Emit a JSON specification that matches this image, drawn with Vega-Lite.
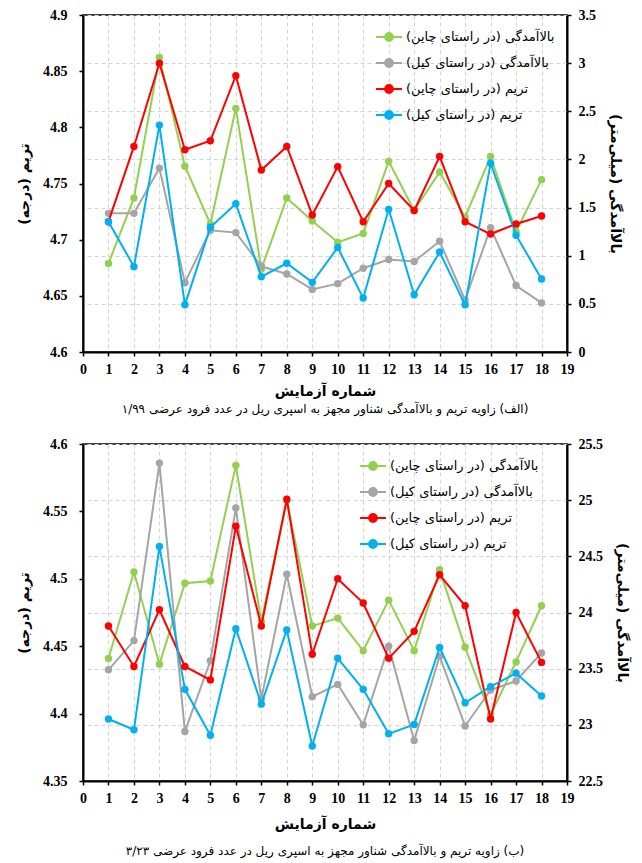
{
  "$schema": "https://vega.github.io/schema/vega-lite/v6.json",
  "background": "white",
  "padding": {"left": 16, "top": 7, "right": 5, "bottom": 4},
  "spacing": 20,
  "datasets": {
    "a": [
      {"run": 1, "hc": 0.92, "hk": 1.44, "tc": 4.716, "tk": 4.716},
      {"run": 2, "hc": 1.60, "hk": 1.44, "tc": 4.783, "tk": 4.676},
      {"run": 3, "hc": 3.06, "hk": 1.91, "tc": 4.857, "tk": 4.802},
      {"run": 4, "hc": 1.93, "hk": 0.72, "tc": 4.780, "tk": 4.642},
      {"run": 5, "hc": 1.33, "hk": 1.265, "tc": 4.788, "tk": 4.711},
      {"run": 6, "hc": 2.53, "hk": 1.24, "tc": 4.846, "tk": 4.732},
      {"run": 7, "hc": 0.86, "hk": 0.89, "tc": 4.762, "tk": 4.667},
      {"run": 8, "hc": 1.60, "hk": 0.81, "tc": 4.783, "tk": 4.679},
      {"run": 9, "hc": 1.36, "hk": 0.65, "tc": 4.722, "tk": 4.662},
      {"run": 10, "hc": 1.14, "hk": 0.71, "tc": 4.765, "tk": 4.693},
      {"run": 11, "hc": 1.23, "hk": 0.87, "tc": 4.716, "tk": 4.648},
      {"run": 12, "hc": 1.98, "hk": 0.96, "tc": 4.750, "tk": 4.727},
      {"run": 13, "hc": 1.47, "hk": 0.94, "tc": 4.726, "tk": 4.651},
      {"run": 14, "hc": 1.87, "hk": 1.15, "tc": 4.774, "tk": 4.689},
      {"run": 15, "hc": 1.40, "hk": 0.54, "tc": 4.716, "tk": 4.642},
      {"run": 16, "hc": 2.03, "hk": 1.29, "tc": 4.705, "tk": 4.768},
      {"run": 17, "hc": 1.25, "hk": 0.69, "tc": 4.714, "tk": 4.704},
      {"run": 18, "hc": 1.79, "hk": 0.51, "tc": 4.721, "tk": 4.665}
    ],
    "b": [
      {"run": 1, "hc": 23.59, "hk": 23.49, "tc": 4.465, "tk": 4.396},
      {"run": 2, "hc": 24.36, "hk": 23.75, "tc": 4.435, "tk": 4.388},
      {"run": 3, "hc": 23.54, "hk": 25.33, "tc": 4.477, "tk": 4.524},
      {"run": 4, "hc": 24.26, "hk": 22.94, "tc": 4.435, "tk": 4.418},
      {"run": 5, "hc": 24.28, "hk": 23.57, "tc": 4.425, "tk": 4.384},
      {"run": 6, "hc": 25.31, "hk": 24.93, "tc": 4.539, "tk": 4.463},
      {"run": 7, "hc": 23.92, "hk": 23.23, "tc": 4.465, "tk": 4.407},
      {"run": 8, "hc": 25.00, "hk": 24.34, "tc": 4.559, "tk": 4.462},
      {"run": 9, "hc": 23.88, "hk": 23.25, "tc": 4.444, "tk": 4.376},
      {"run": 10, "hc": 23.95, "hk": 23.36, "tc": 4.500, "tk": 4.441},
      {"run": 11, "hc": 23.66, "hk": 23.00, "tc": 4.482, "tk": 4.418},
      {"run": 12, "hc": 24.11, "hk": 23.70, "tc": 4.441, "tk": 4.385},
      {"run": 13, "hc": 23.66, "hk": 22.86, "tc": 4.461, "tk": 4.392},
      {"run": 14, "hc": 24.38, "hk": 23.61, "tc": 4.503, "tk": 4.449},
      {"run": 15, "hc": 23.69, "hk": 22.99, "tc": 4.480, "tk": 4.408},
      {"run": 16, "hc": 23.09, "hk": 23.31, "tc": 4.396, "tk": 4.420},
      {"run": 17, "hc": 23.56, "hk": 23.39, "tc": 4.475, "tk": 4.430},
      {"run": 18, "hc": 24.06, "hk": 23.64, "tc": 4.438, "tk": 4.413}
    ]
  },
  "config": {
    "view": {"stroke": "#000", "strokeWidth": 1.5},
    "axis": {
      "labelFont": "Liberation Serif",
      "labelFontWeight": "bold",
      "labelFontSize": 14,
      "labelColor": "#000",
      "labelOverlap": false,
      "labelBound": false,
      "labelFlush": false,
      "domainColor": "#000",
      "domainWidth": 2,
      "tickColor": "#000",
      "tickSize": 4,
      "tickWidth": 1.5,
      "titleFont": "DejaVu Sans",
      "titleFontWeight": "bold",
      "titleFontSize": 14,
      "titleColor": "#000",
      "gridColor": "#d4d4d4",
      "gridDash": [4, 3],
      "gridWidth": 1
    },
    "legend": {
      "orient": "none",
      "legendX": 292,
      "legendY": 8,
      "padding": 0,
      "title": null,
      "symbolType": "M-1,0H1M0.3,0A0.3,0.3 0 1,1 -0.3,0A0.3,0.3 0 1,1 0.3,0Z",
      "symbolSize": 676,
      "symbolStrokeWidth": 2,
      "labelFont": "DejaVu Sans",
      "labelFontSize": 13,
      "labelColor": "#000",
      "labelOffset": 3,
      "rowPadding": 1,
      "labelLimit": 300
    }
  },
  "resolve": {"scale": {"color": "independent"}, "legend": {"color": "independent"}},
  "vconcat": [
    {
      "width": 484,
      "height": 337,
      "data": {"name": "a"},
      "title": {
        "text": "\u200f(الف) زاویه تریم و بالاآمدگی شناور مجهز به اسپری ریل در عدد فرود عرضی ۱/۹۹\u200f",
        "orient": "bottom",
        "font": "DejaVu Sans",
        "fontSize": 12,
        "fontWeight": "normal",
        "color": "#000",
        "offset": 6
      },
      "resolve": {"scale": {"y": "independent"}},
      "layer": [
        {
          "transform": [{"fold": ["hc", "hk"], "as": ["series", "value"]}],
          "mark": {"type": "line", "strokeWidth": 2, "point": {"filled": true, "size": 55}},
          "encoding": {
            "x": {
              "field": "run", "type": "quantitative",
              "scale": {"domain": [0, 19], "nice": false},
              "axis": {"values": [0,1,2,3,4,5,6,7,8,9,10,11,12,13,14,15,16,17,18,19], "labelOverlap": false, "format": "d", "grid": true, "title": "شماره آزمایش", "titlePadding": 8, "labelPadding": 6}
            },
            "y": {
              "field": "value", "type": "quantitative",
              "scale": {"domain": [0, 3.5], "nice": false, "zero": false},
              "axis": {"orient": "right", "values": [0, 0.5, 1, 1.5, 2, 2.5, 3, 3.5], "format": ".1~f", "grid": true, "title": "بالاآمدگی (میلی\u200cمتر)\u200f", "titlePadding": 12, "labelPadding": 7}
            },
            "color": {
              "field": "series", "type": "nominal",
              "scale": {"domain": ["hc", "hk", "tc", "tk"], "range": ["#92d050", "#a5a5a5", "#ff0000", "#00b0f0"]},
              "legend": {
                "rowPadding": 4,
                "labelExpr": "'\u200f' + (datum.value == 'hc' ? 'بالاآمدگی (در راستای چاین)' : datum.value == 'hk' ? 'بالاآمدگی (در راستای کیل)' : datum.value == 'tc' ? 'تریم (در راستای چاین)' : 'تریم (در راستای کیل)') + '\u200f'",
                "encode": {"symbols": {"update": {"fill": [
                  {"test": "datum.value == 'hc'", "value": "#92d050"},
                  {"test": "datum.value == 'hk'", "value": "#a5a5a5"},
                  {"test": "datum.value == 'tc'", "value": "#ff0000"},
                  {"value": "#00b0f0"}
                ]}}}
              }
            }
          }
        },
        {
          "transform": [{"fold": ["tc", "tk"], "as": ["series", "value"]}],
          "mark": {"type": "line", "strokeWidth": 2, "point": {"filled": true, "size": 55}},
          "encoding": {
            "x": {
              "field": "run", "type": "quantitative",
              "scale": {"domain": [0, 19], "nice": false},
              "axis": {"values": [0,1,2,3,4,5,6,7,8,9,10,11,12,13,14,15,16,17,18,19], "labelOverlap": false, "format": "d", "grid": true, "title": "شماره آزمایش", "titlePadding": 8, "labelPadding": 6}
            },
            "y": {
              "field": "value", "type": "quantitative",
              "scale": {"domain": [4.6, 4.9], "nice": false, "zero": false},
              "axis": {"orient": "left", "values": [4.6, 4.65, 4.7, 4.75, 4.8, 4.85, 4.9], "format": ".2~f", "grid": false, "title": "تریم (درجه)\u200f", "titlePadding": 11, "labelPadding": 12}
            },
            "color": {"field": "series", "type": "nominal", "scale": {"domain": ["hc", "hk", "tc", "tk"], "range": ["#92d050", "#a5a5a5", "#ff0000", "#00b0f0"]}}
          }
        }
      ]
    },
    {
      "width": 484,
      "height": 337,
      "data": {"name": "b"},
      "title": {
        "text": "\u200f(ب) زاویه تریم و بالاآمدگی شناور مجهز به اسپری ریل در عدد فرود عرضی ۳/۲۳\u200f",
        "orient": "bottom",
        "font": "DejaVu Sans",
        "fontSize": 12,
        "fontWeight": "normal",
        "color": "#000",
        "offset": 15
      },
      "resolve": {"scale": {"y": "independent"}},
      "layer": [
        {
          "transform": [{"fold": ["hc", "hk"], "as": ["series", "value"]}],
          "mark": {"type": "line", "strokeWidth": 2, "point": {"filled": true, "size": 55}},
          "encoding": {
            "x": {
              "field": "run", "type": "quantitative",
              "scale": {"domain": [0, 19], "nice": false},
              "axis": {"values": [0,1,2,3,4,5,6,7,8,9,10,11,12,13,14,15,16,17,18,19], "labelOverlap": false, "format": "d", "grid": true, "title": "شماره آزمایش", "titlePadding": 12, "labelPadding": 6}
            },
            "y": {
              "field": "value", "type": "quantitative",
              "scale": {"domain": [22.5, 25.5], "nice": false, "zero": false},
              "axis": {"orient": "right", "values": [22.5, 23, 23.5, 24, 24.5, 25, 25.5], "format": ".1~f", "grid": true, "title": "بالاآمدگی (میلی\u200cمتر)\u200f", "titlePadding": 12, "labelPadding": 7}
            },
            "color": {
              "field": "series", "type": "nominal",
              "scale": {"domain": ["hc", "hk", "tc", "tk"], "range": ["#92d050", "#a5a5a5", "#ff0000", "#00b0f0"]},
              "legend": {
                "legendX": 276,
                "rowPadding": 4,
                "labelExpr": "'\u200f' + (datum.value == 'hc' ? 'بالاآمدگی (در راستای چاین)' : datum.value == 'hk' ? 'بالاآمدگی (در راستای کیل)' : datum.value == 'tc' ? 'تریم (در راستای چاین)' : 'تریم (در راستای کیل)') + '\u200f'",
                "encode": {"symbols": {"update": {"fill": [
                  {"test": "datum.value == 'hc'", "value": "#92d050"},
                  {"test": "datum.value == 'hk'", "value": "#a5a5a5"},
                  {"test": "datum.value == 'tc'", "value": "#ff0000"},
                  {"value": "#00b0f0"}
                ]}}}
              }
            }
          }
        },
        {
          "transform": [{"fold": ["tc", "tk"], "as": ["series", "value"]}],
          "mark": {"type": "line", "strokeWidth": 2, "point": {"filled": true, "size": 55}},
          "encoding": {
            "x": {
              "field": "run", "type": "quantitative",
              "scale": {"domain": [0, 19], "nice": false},
              "axis": {"values": [0,1,2,3,4,5,6,7,8,9,10,11,12,13,14,15,16,17,18,19], "labelOverlap": false, "format": "d", "grid": true, "title": "شماره آزمایش", "titlePadding": 12, "labelPadding": 6}
            },
            "y": {
              "field": "value", "type": "quantitative",
              "scale": {"domain": [4.35, 4.6], "nice": false, "zero": false},
              "axis": {"orient": "left", "values": [4.35, 4.4, 4.45, 4.5, 4.55, 4.6], "format": ".2~f", "grid": false, "title": "تریم (درجه)\u200f", "titlePadding": 11, "labelPadding": 12}
            },
            "color": {"field": "series", "type": "nominal", "scale": {"domain": ["hc", "hk", "tc", "tk"], "range": ["#92d050", "#a5a5a5", "#ff0000", "#00b0f0"]}}
          }
        }
      ]
    }
  ]
}
